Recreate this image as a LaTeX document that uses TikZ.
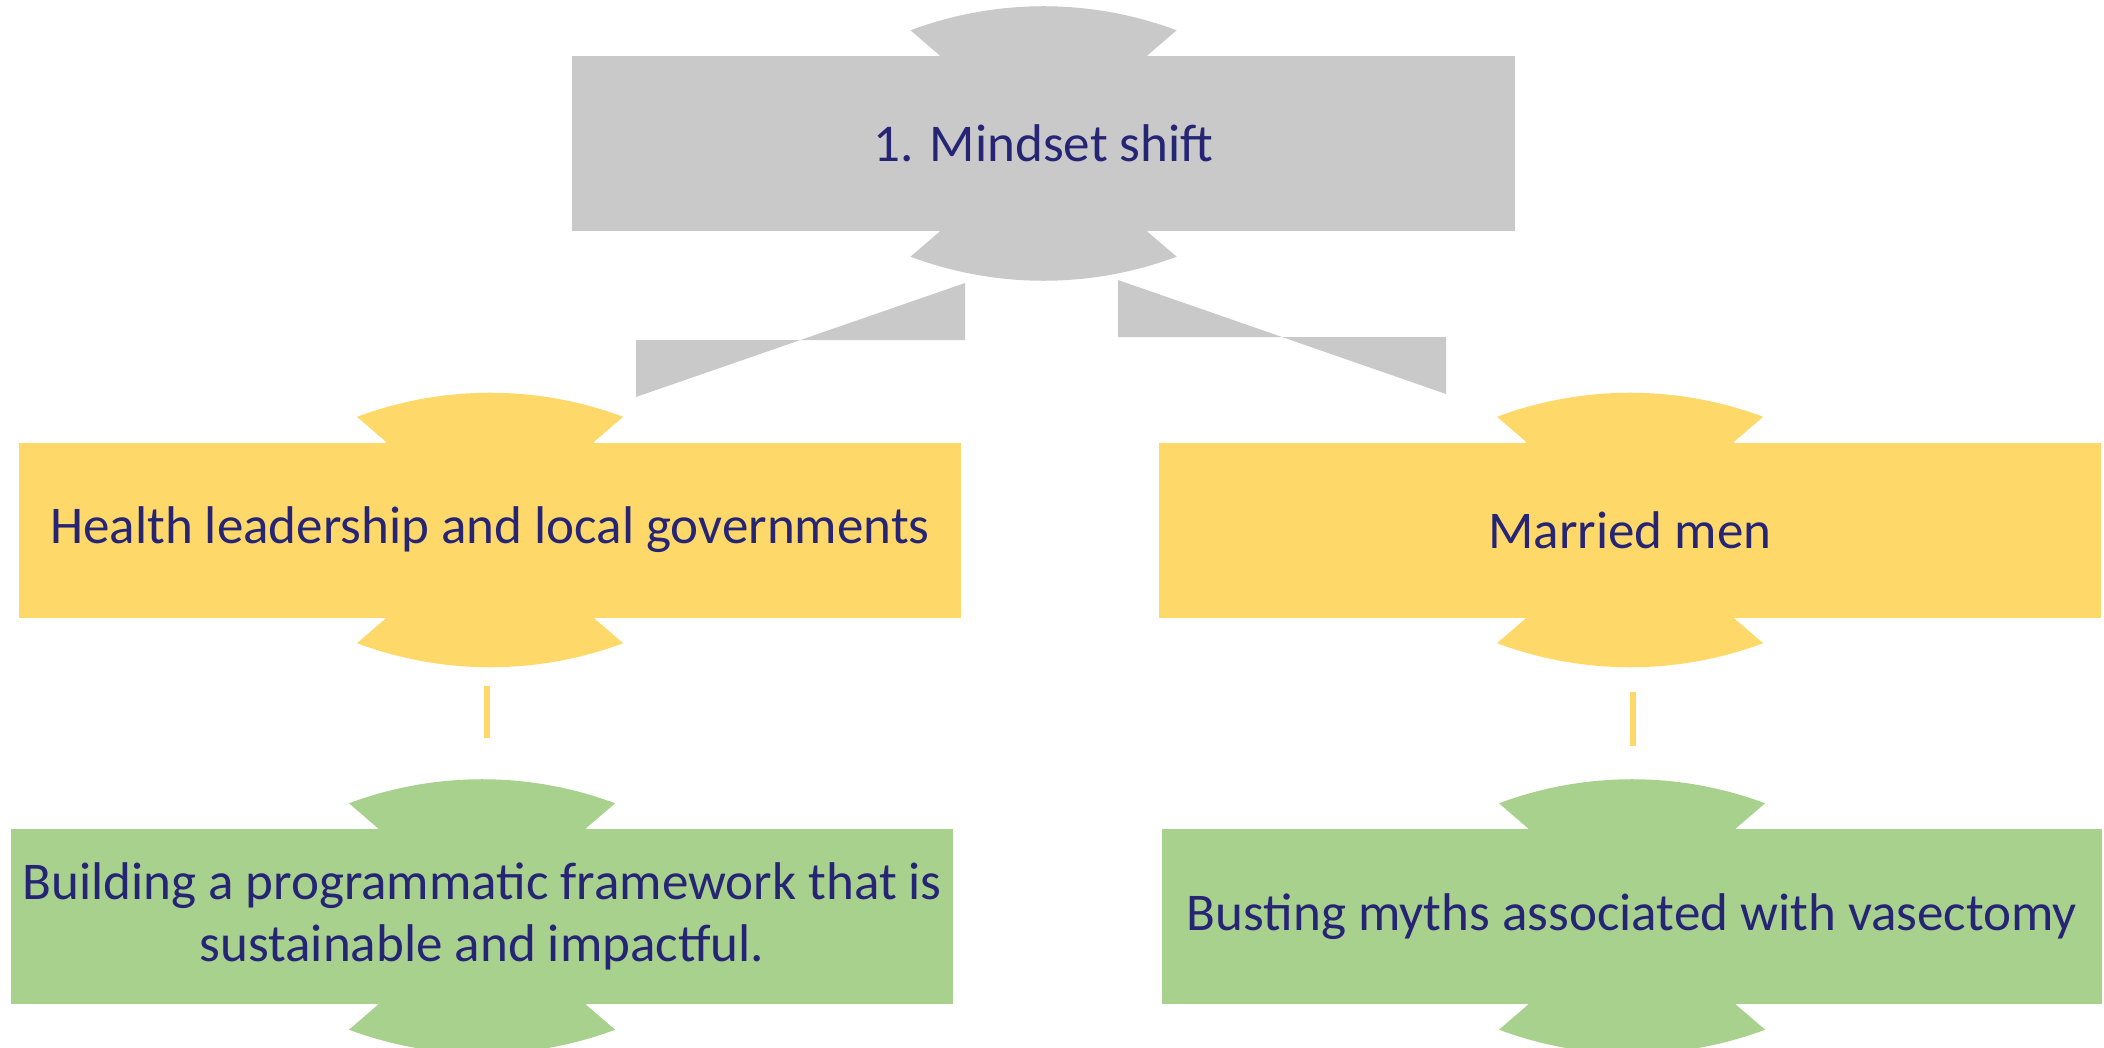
\documentclass[tikz,border=0pt]{standalone}
\usepackage{fontspec}
\setmainfont{Carlito}
\usepackage{tikz}
\usetikzlibrary{calc}

\definecolor{greybox}{RGB}{201,201,201}
\definecolor{yellowbox}{RGB}{254,217,106}
\definecolor{greenbox}{RGB}{169,209,142}
\definecolor{textblue}{RGB}{38,36,116}

\tikzset{
  box/.style={rectangle, inner sep=0pt, minimum width=9.42cm, minimum height=1.75cm,
    align=center, text=textblue, font=\fontsize{15.1}{17.5}\selectfont},
  stub/.style={line width=1.8pt, draw=yellowbox}
}

\newcommand{\ears}[2]{
  \fill [#2] ($(#1.north)+(-1.33,0.25)$)
    arc[start angle=110.5, end angle=69.5, radius=3.8] -- ($(#1.north)+(1.04,0)$)
    -- ++(0,-0.04) -- ($(#1.north)+(-1.04,-0.04)$) -- ($(#1.north)+(-1.04,0)$) -- cycle;
  \fill [#2] ($(#1.south)+(-1.33,-0.25)$)
    arc[start angle=249.5, end angle=290.5, radius=3.8] -- ($(#1.south)+(1.04,0)$)
    -- ++(0,0.04) -- ($(#1.south)+(-1.04,0.04)$) -- ($(#1.south)+(-1.04,0)$) -- cycle;
}

\begin{document}
\begin{tikzpicture}
\useasboundingbox (0, 0) rectangle (21.04, -10.48);
\node (top) at (10.435, -1.435) [box, fill=greybox, minimum width=9.43cm] {1. Mindset shift};
\node (lead) at (4.90, -5.30) [box, fill=yellowbox] {Health leadership and local governments};
\node (men) at (16.30, -5.30) [box, fill=yellowbox] {Married men};
\node (frame) at (4.82, -9.165) [box, fill=greenbox] {Building a programmatic framework that is\\sustainable and impactful.};
\node (myths) at (16.32, -9.165) [box, fill=greenbox, minimum width=9.40cm] {Busting myths associated with vasectomy};
\ears{top}{greybox}
\ears{lead}{yellowbox}
\ears{men}{yellowbox}
\ears{frame}{greenbox}
\ears{myths}{greenbox}
\coordinate (topl) at (9.65, -2.83);
\coordinate (leadr) at (6.36, -3.97);
\coordinate (topr) at (11.18, -2.80);
\coordinate (menl) at (14.46, -3.94);
\coordinate (midl) at ($(topl)!0.5!(leadr)$);
\coordinate (midr) at ($(topr)!0.5!(menl)$);
\coordinate (leadb) at (4.87, -6.86);
\coordinate (framet) at (4.87, -7.38);
\coordinate (menb) at (16.33, -6.92);
\coordinate (mythst) at (16.33, -7.46);
\fill [greybox] (leadr) -- (leadr |- midl) -- (topl |- midl) -- (topl) -- cycle;
\fill [greybox] (menl) -- (menl |- midr) -- (topr |- midr) -- (topr) -- cycle;
\draw [stub] (leadb) -- (framet);
\draw [stub] (menb) -- (mythst);
\end{tikzpicture}
\end{document}
